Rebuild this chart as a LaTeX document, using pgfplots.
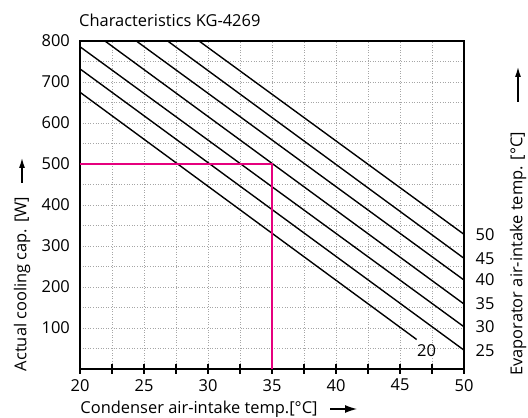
\documentclass[border=0pt]{standalone}
\usepackage{fontspec}
\setmainfont{Open Sans}
\usepackage{pgfplots}
\usetikzlibrary{arrows.meta}
\pgfplotsset{compat=1.18}
\definecolor{mag}{RGB}{230,0,126}
\begin{document}
\fontsize{16.5}{19}\selectfont
\begin{tikzpicture}
\begin{axis}[name=ax, at={(0,0)}, anchor=south west,
  scale only axis, width=384bp, height=328bp,
  xmin=20, xmax=50, ymin=0, ymax=800,
  xtick={20,25,...,50}, minor xtick={22.5,27.5,...,47.5},
  ytick={100,200,...,800}, minor ytick={50,150,...,750},
  grid=both,
  grid style={dotted, gray!70, line width=0.6pt},
  minor grid style={dotted, gray!70, line width=0.6pt},
  major grid style={dotted, gray!70, line width=0.6pt},
  tick align=center, major tick length=9bp, minor tick length=9bp,
  xtick pos=bottom, ytick pos=left,
  y tick style={draw=none},
  x tick style={black, line width=1.3pt},
  axis line style={line width=1.5pt},
  tick label style={font=\fontsize{16.5}{19}\selectfont},
  /pgf/number format/assume math mode=true,
  clip=false,
]
\addplot[black, line width=1.4pt] coordinates {(20,675) (46.3,72)};
\addplot[black, line width=1.4pt] coordinates {(20,732) (50,46)};
\addplot[black, line width=1.4pt] coordinates {(20,786) (50,103)};
\addplot[black, line width=1.4pt] coordinates {(21.95,800) (50,158.5)};
\addplot[black, line width=1.4pt] coordinates {(24.4,800) (50,217)};
\addplot[black, line width=1.4pt] coordinates {(26.85,800) (50,270)};
\addplot[black, line width=1.4pt] coordinates {(29.3,800) (50,328.5)};
\addplot[mag, line width=2pt] coordinates {(20,500) (35,500) (35,0)};
\node[anchor=west, xshift=6bp] at (axis cs:50,328.5) {50};
\node[anchor=west, xshift=6bp] at (axis cs:50,270) {45};
\node[anchor=west, xshift=6bp] at (axis cs:50,217) {40};
\node[anchor=west, xshift=6bp] at (axis cs:50,158.5) {35};
\node[anchor=west, xshift=6bp] at (axis cs:50,103) {30};
\node[anchor=west, xshift=6bp] at (axis cs:50,46) {25};
\node at (axis cs:47.07,46) {20};
\end{axis}
\begin{scope}[shift={(ax.south west)}, x=1bp, y=1bp]
  \node[anchor=west, inner sep=0pt] at (-1,349) {Characteristics KG-4269};
  \node[rotate=90] at (-58,85) {Actual cooling cap. [W]};
  \draw[-{Latex[length=10bp,width=6bp]}, line width=1.2pt] (-58,186) -- (-58,211);
  \node[rotate=90] at (438,115) {Evaporator air-intake temp. [°C]};
  \draw[-{Latex[length=10bp,width=6bp]}, line width=1.2pt] (438,267) -- (438,302);
  \node at (119,-40) {Condenser air-intake temp.[°C]};
  \draw[-{Latex[length=12bp,width=8bp]}, line width=1.2pt] (250,-40) -- (277,-40);
\end{scope}
\pgfresetboundingbox
\useasboundingbox (ax.south west) ++(-80bp,-49bp) rectangle ++(528bp,418bp);
\end{tikzpicture}
\end{document}
